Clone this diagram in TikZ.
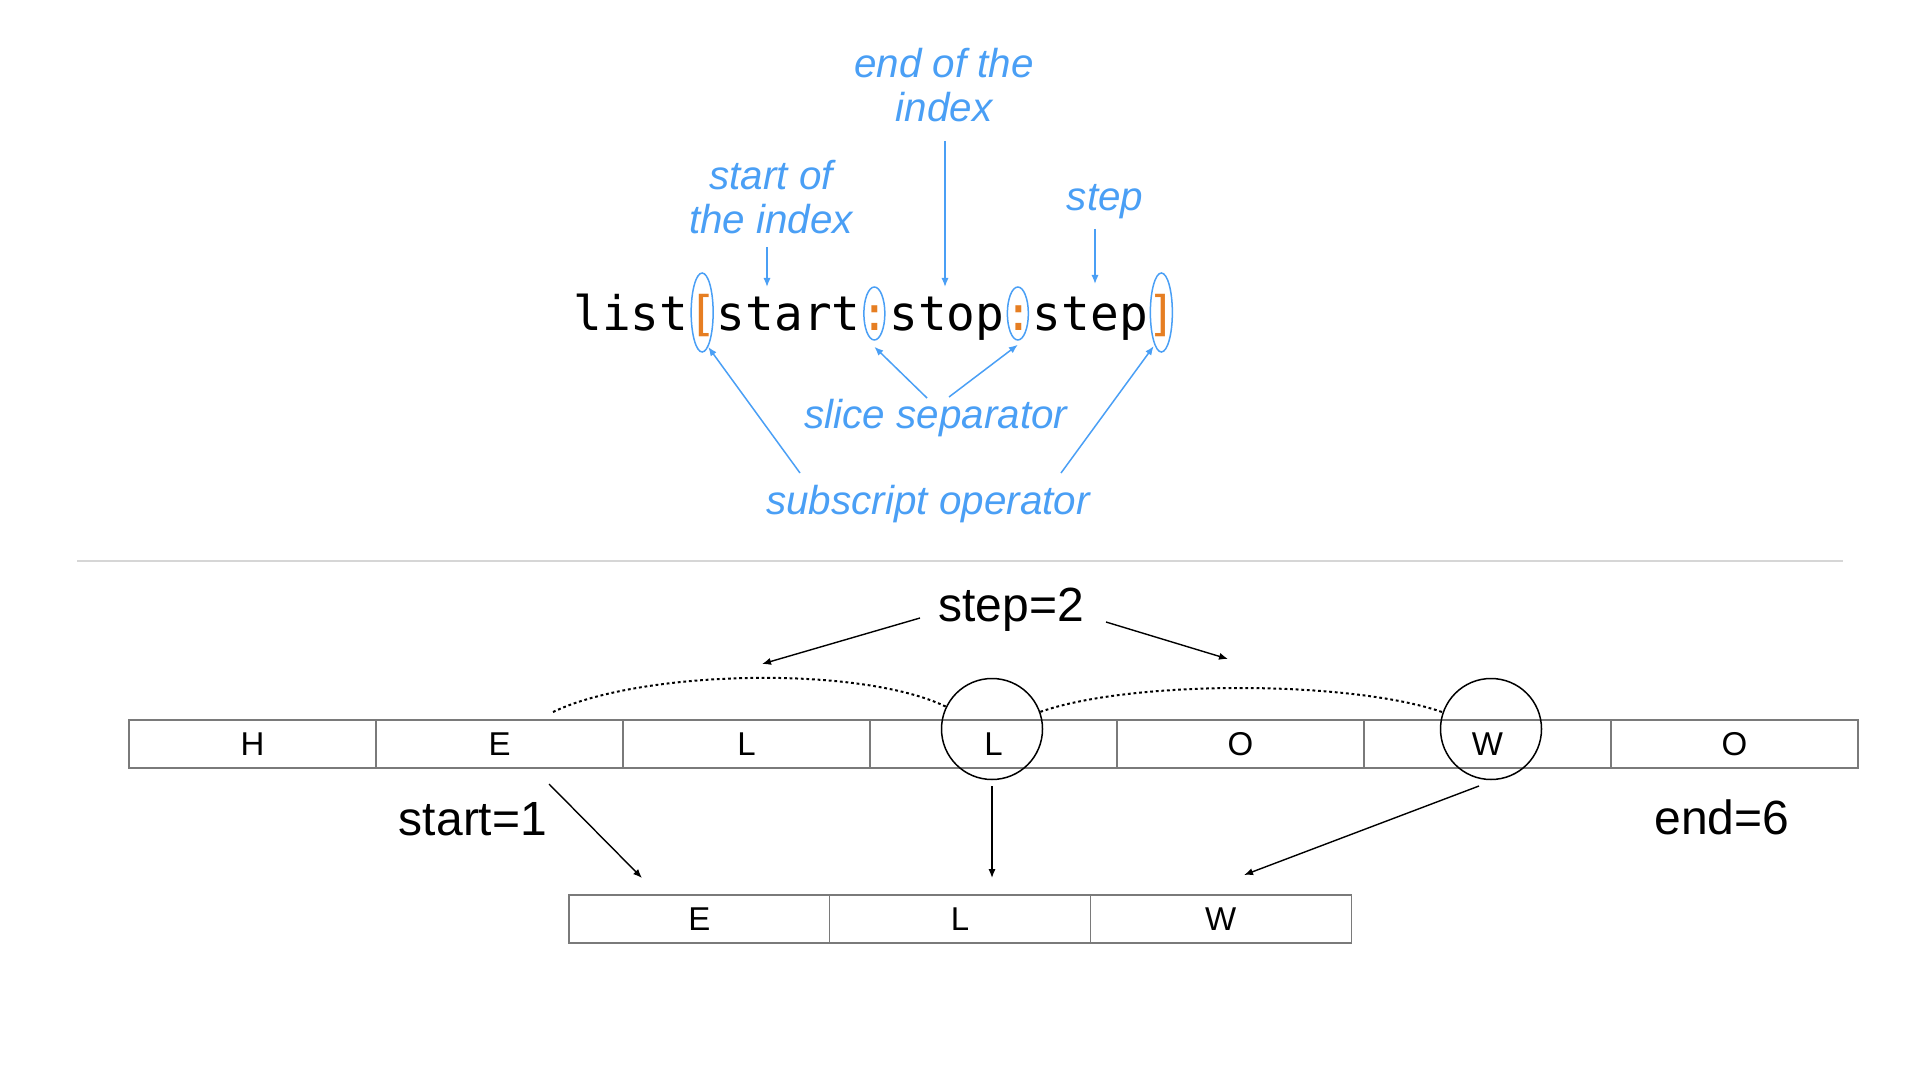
\documentclass[tikz,border=0pt]{standalone}
\usepackage{fontspec}
\setmainfont{Liberation Sans}
\newfontfamily\codefont{DejaVu Sans Mono}
\usetikzlibrary{shapes.geometric,arrows.meta}
\definecolor{lblue}{HTML}{4A9FF5}
\definecolor{corange}{HTML}{E67E22}
\definecolor{cellgray}{HTML}{7A7A7A}
\definecolor{rulegray}{HTML}{D6D6D6}
\begin{document}
\begin{tikzpicture}[x=0.5pt,y=-0.5pt,
  bluelabel/.style={text=lblue, font=\fontsize{20.2}{22}\selectfont\itshape, inner sep=0pt, align=center},
  bluearrow/.style={draw=lblue, line width=0.75pt, -{Latex[length=4.5pt,width=3.6pt]}},
  blueell/.style={draw=lblue, line width=0.75pt, ellipse, inner sep=0pt},
  blackarrow/.style={draw=black, line width=0.7pt, -{Latex[length=4.5pt,width=3.6pt]}},
  biglabel/.style={font=\fontsize{24}{28}\selectfont, inner sep=0pt},
  cell/.style={draw=cellgray, line width=0.6pt, minimum width=123.5pt, minimum height=24pt, inner sep=0pt, font=\fontsize{16.5}{18}\selectfont},
  rcell/.style={draw=cellgray, line width=0.6pt, minimum width=130.35pt, minimum height=24pt, inner sep=0pt, font=\fontsize{16.5}{18}\selectfont},
  ring/.style={draw=black, line width=0.75pt, circle, minimum size=50.5pt, inner sep=0pt},
  dotarc/.style={draw=black, line width=1pt, dash pattern=on 1.4pt off 1.4pt}
]
\useasboundingbox (0,0) rectangle (1920,1080);

% ---------- top: slice syntax ----------
\node[anchor=base west, inner sep=0pt, font=\codefont\fontsize{23.85}{28}\selectfont] (code) at (573,330)
  {list\textcolor{corange}{[}start\textcolor{corange}{:}stop\textcolor{corange}{:}step\textcolor{corange}{]}};

\node[blueell, minimum width=11pt, minimum height=39.5pt] (eb1) at (573+4.5*28.7,312.5) {};
\node[blueell, minimum width=10.5pt, minimum height=26.5pt] (ec1) at (573+10.5*28.7,313.5) {};
\node[blueell, minimum width=10.5pt, minimum height=26.5pt] (ec2) at (573+15.5*28.7,313.5) {};
\node[blueell, minimum width=11pt, minimum height=39.5pt] (eb2) at (573+20.5*28.7,312.5) {};

\node[bluelabel, anchor=south] (endlbl) at (944,122) {end of the\\index};
\node[bluelabel, anchor=south] (startlbl) at (771,234) {start of\\the index};
\node[bluelabel, anchor=base] (steplbl) at (1105,211) {step};
\node[bluelabel, anchor=base] (slicelbl) at (936,428) {slice separator};
\node[bluelabel, anchor=base] (sublbl) at (928,514) {subscript operator};

\coordinate (pstart) at (767,287);
\coordinate (pstop) at (945,287);
\coordinate (pstep) at (1095,284);
\draw[bluearrow] ([xshift=-2pt,yshift=-6.5pt]startlbl.south) -- (pstart);
\draw[bluearrow] ([xshift=0.5pt,yshift=-9.5pt]endlbl.south) -- (pstop);
\draw[bluearrow] ([xshift=-5pt,yshift=-9pt]steplbl.base) -- (pstep);

\coordinate (sl1) at (927,398);
\coordinate (sl2) at (949,397);
\coordinate (su1) at (800,473);
\coordinate (su2) at (1061,473);
\draw[bluearrow] (sl1) -- ([yshift=-3pt]ec1.south);
\draw[bluearrow] (sl2) -- ([yshift=-2pt]ec2.south);
\draw[bluearrow] (su1) -- (eb1.-80);
\draw[bluearrow] (su2) -- ([yshift=-1.5pt]eb2.-104);

% ---------- divider ----------
\coordinate (rl) at (77,561);
\coordinate (rr) at (1843,561);
\draw[rulegray, line width=1pt] (rl) -- (rr);

% ---------- bottom: example ----------
\node[cell] (h1) at (129+0.5*247,744) {H};
\node[cell] (h2) at (129+1.5*247,744) {E};
\node[cell] (h3) at (129+2.5*247,744) {L};
\node[cell] (h4) at (129+3.5*247,744) {L};
\node[cell] (h5) at (129+4.5*247,744) {O};
\node[cell] (h6) at (129+5.5*247,744) {W};
\node[cell] (h7) at (129+6.5*247,744) {O};

\node[rcell] (r1) at (569+0.5*260.7,919) {E};
\node[rcell] (r2) at (569+1.5*260.7,919) {L};
\node[rcell] (r3) at (569+2.5*260.7,919) {W};

\node[ring] (cL) at (992,729) {};
\node[ring] (cW) at (1491,729) {};

\node[biglabel, anchor=base] (steptwo) at (1011,621) {step=2};
\node[biglabel, anchor=base] (startone) at (473,835) {start=1};
\node[biglabel, anchor=base] (endsix) at (1722,834) {end=6};

\coordinate (st1) at (920,618);
\coordinate (st1e) at (762,664);
\coordinate (st2) at (1106,622);
\coordinate (st2e) at (1228,659);
\draw[blackarrow] (st1) -- (st1e);
\draw[blackarrow] (st2) -- (st2e);

\coordinate (arcA) at (553,712);
\draw[dotarc] (arcA) .. controls (640,670) and (860,665) .. (cL);
\draw[dotarc] (cL) .. controls (1130,680) and (1350,680) .. (cW);

\coordinate (dE) at (549,784);
\coordinate (dEe) at (642,878);
\coordinate (dLe) at (992,878);
\coordinate (dW) at (1479,786);
\coordinate (dWe) at (1244,875);
\draw[blackarrow] (dE) -- (dEe);
\draw[blackarrow] ([yshift=-3pt]cL.south) -- (dLe);
\draw[blackarrow] (dW) -- (dWe);
\end{tikzpicture}
\end{document}
